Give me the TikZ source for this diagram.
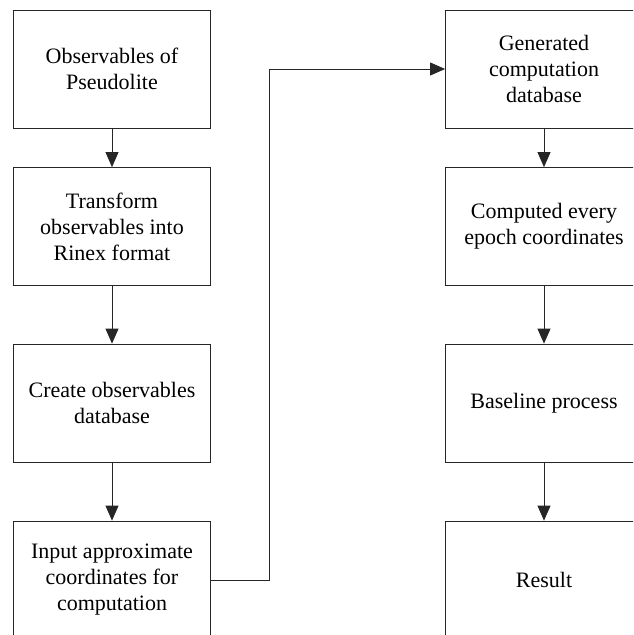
\documentclass[tikz,border=0pt]{standalone}
\usepackage{fontspec}
\setmainfont{Liberation Serif}
\newfontfamily\tnrfont{Liberation Serif}
\usetikzlibrary{arrows.meta}
\begin{document}
\begin{tikzpicture}[x=1pt,y=1pt,
  box/.style={draw=black!85, line width=0.8pt, minimum width=197pt, minimum height=118pt,
    align=center, inner sep=0pt, font=\tnrfont\fontsize{22}{26}\selectfont},
  conn/.style={draw=black!85, line width=0.8pt, -{Triangle[width=13pt,length=15pt]}}]
\clip (0,0) rectangle (633,-635);
\fill[white] (0,0) rectangle (633,-635);
\node[box] (a1) at (112,-69) {Observables of\\Pseudolite};
\node[box] (a2) at (112,-226.5) {Transform\\observables into\\Rinex format};
\node[box] (a3) at (112,-403) {Create observables\\database};
\node[box] (a4) at (112,-580) {Input approximate\\coordinates for\\computation};
\node[box] (b1) at (544,-69) {Generated\\computation\\database};
\node[box] (b2) at (544,-226.5) {Computed every\\epoch coordinates};
\node[box] (b3) at (544,-403) {Baseline process};
\node[box] (b4) at (544,-580) {Result};
\draw[conn] (a1) -- (a2);
\draw[conn] (a2) -- (a3);
\draw[conn] (a3) -- (a4);
\draw[conn] (b1) -- (b2);
\draw[conn] (b2) -- (b3);
\draw[conn] (b3) -- (b4);
\coordinate (m1) at (269,-580);
\coordinate (m2) at (269,-69);
\draw[conn] (a4.east) -- (m1) -- (m2) -- (b1.west);
\end{tikzpicture}
\end{document}
